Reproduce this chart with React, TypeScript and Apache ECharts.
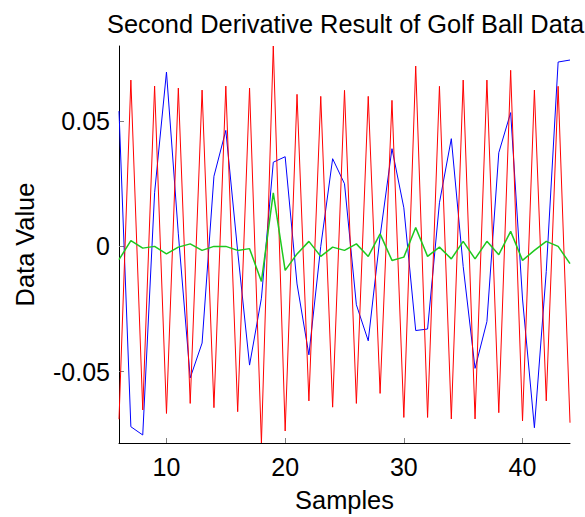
import React, { useEffect, useRef } from "react";
import * as echarts from "echarts";

const samples = [6, 7, 8, 9, 10, 11, 12, 13, 14, 15, 16, 17, 18, 19, 20, 21, 22, 23, 24, 25, 26, 27, 28, 29, 30, 31, 32, 33, 34, 35, 36, 37, 38, 39, 40, 41, 42, 43, 44];

const blueValues = [0.054, -0.072, -0.0753, 0.0214, 0.0696, 0.005, -0.0525, -0.0386, 0.028, 0.0463, -0.002, -0.0474, -0.0207, 0.0336, 0.0358, -0.015, -0.0433, 0.0, 0.035, 0.025, -0.0233, -0.0377, 0.004, 0.039, 0.0154, -0.0336, -0.033, 0.0174, 0.043, -0.008, -0.0487, -0.03, 0.0374, 0.0534, -0.021, -0.0724, -0.01, 0.0736, 0.0744];

const greenValues = [-0.0053, 0.0023, -0.0007, 0.0, -0.003, -0.0003, 0.001, -0.0016, 0.0, 0.0, -0.0016, -0.0009, -0.014, 0.0214, -0.0096, -0.003, 0.002, -0.004, -0.0003, -0.0016, 0.001, -0.004, 0.005, -0.0056, -0.0043, 0.0075, -0.004, -0.0003, -0.005, 0.002, -0.005, 0.002, -0.0033, 0.006, -0.0056, -0.0016, 0.002, 0.0, -0.0069];

const redValues = [-0.069, 0.0664, -0.0653, 0.064, -0.0667, 0.0632, -0.0627, 0.0624, -0.0644, 0.064, -0.066, 0.0632, -0.0785, 0.08, -0.0737, 0.0607, -0.0617, 0.0599, -0.0642, 0.0623, -0.0627, 0.0599, -0.0587, 0.0583, -0.0683, 0.072, -0.0683, 0.0639, -0.0689, 0.0664, -0.0689, 0.0664, -0.0664, 0.0703, -0.0697, 0.0624, -0.0617, 0.0639, -0.0704];

const xTicks = [10, 20, 30, 40];
const yTicks = [-0.05, 0, 0.05];

const FONT = "Liberation Sans, Arial, sans-serif";

export default function App() {
  const ref = useRef<HTMLDivElement>(null);
  useEffect(() => {
    if (!ref.current) return;
    const chart = echarts.init(ref.current, null, { renderer: "svg" });
    const pair = (vals: number[]) => samples.map((s, i) => [s, vals[i]]);
    const lineSeries = (name: string, vals: number[], color: string, width: number) => ({
      name,
      type: "line",
      data: pair(vals),
      showSymbol: false,
      symbol: "none",
      lineStyle: { color, width },
      itemStyle: { color },
      clip: true,
    });
    chart.setOption({
      animation: false,
      backgroundColor: "#ffffff",
      title: {
        text: "Second Derivative Result of Golf Ball Data",
        left: 102,
        top: 6,
        textStyle: { fontFamily: FONT, fontSize: 25.4, fontWeight: "normal", color: "#000" },
      },
      grid: { left: 119, right: 15, top: 46, bottom: 74 },
      xAxis: {
        type: "value",
        min: 6,
        max: 44,
        name: "Samples",
        nameLocation: "middle",
        nameGap: 44,
        nameTextStyle: { fontFamily: FONT, fontSize: 25.4, color: "#000" },
        axisLine: { show: true, onZero: false, lineStyle: { color: "#000", width: 1 } },
        axisTick: { show: true, inside: true, length: 5, lineStyle: { color: "#808080" }, customValues: xTicks },
        axisLabel: {
          margin: 11,
          fontFamily: FONT,
          fontSize: 25,
          color: "#000",
          customValues: xTicks,
          formatter: (v: number) => String(v),
        },
        splitLine: { show: false },
      },
      yAxis: {
        type: "value",
        min: -0.0785,
        max: 0.08,
        name: "Data Value",
        nameLocation: "middle",
        nameGap: 82,
        nameTextStyle: { fontFamily: FONT, fontSize: 25.4, color: "#000" },
        axisLine: { show: true, onZero: false, lineStyle: { color: "#000", width: 1 } },
        axisTick: { show: true, inside: true, length: 5, lineStyle: { color: "#808080" }, customValues: yTicks },
        axisLabel: {
          margin: 9,
          fontFamily: FONT,
          fontSize: 25,
          color: "#000",
          customValues: yTicks,
          formatter: (v: number) => (v === 0 ? "0" : String(Math.round(v * 100) / 100)),
        },
        splitLine: { show: false },
      },
      series: [
        lineSeries("Blue", blueValues, "#0000ff", 1),
        lineSeries("Red", redValues, "#ff0000", 1),
        lineSeries("Green", greenValues, "#1ec81e", 1.5),
      ],
    });
    return () => chart.dispose();
  }, []);
  return <div ref={ref} style={{ width: 585, height: 517, position: "absolute", left: 0, top: 0 }} />;
}
